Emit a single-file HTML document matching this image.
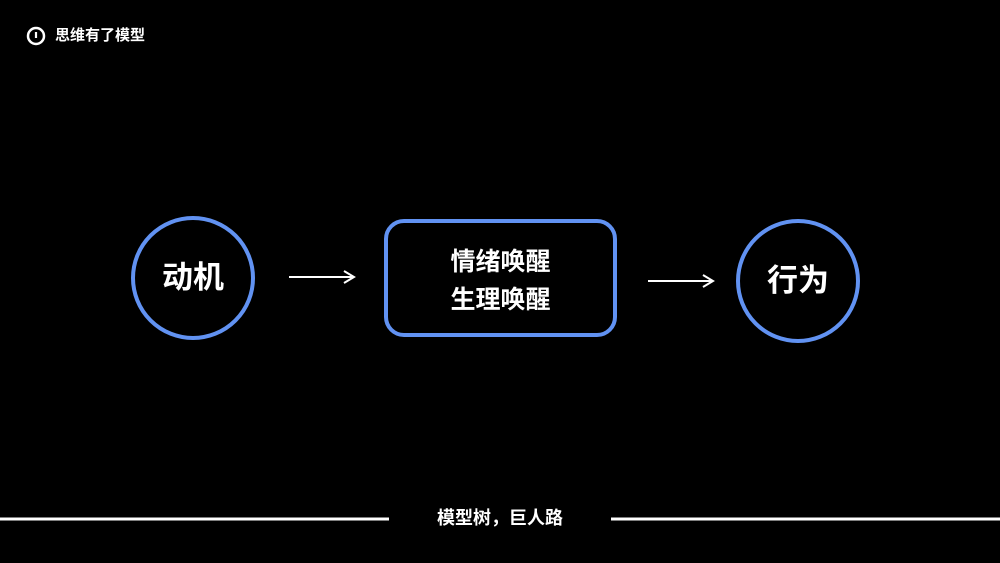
<!DOCTYPE html>
<html><head><meta charset="utf-8"><style>
body{margin:0;width:1000px;height:563px;background:#000;overflow:hidden;position:relative;font-family:"Liberation Sans","Noto Sans CJK SC",sans-serif;color:#fff;font-weight:bold}
.a{position:absolute}
</style></head><body>
<svg class="a" style="left:0;top:0" width="1000" height="563">
<circle cx="36" cy="36" r="8" fill="none" stroke="#fff" stroke-width="2.5"/>
<line x1="36" y1="32" x2="36" y2="38" stroke="#fff" stroke-width="2.2"/>
<circle cx="193" cy="278" r="60" fill="none" stroke="#6192f2" stroke-width="4"/>
<rect x="386" y="221" width="229" height="114" rx="18" fill="none" stroke="#6192f2" stroke-width="4"/>
<circle cx="798" cy="281" r="60" fill="none" stroke="#6192f2" stroke-width="4"/>
<line x1="289" y1="277" x2="353" y2="277" stroke="#fff" stroke-width="2"/>
<polyline points="344,271 354,277 344,283" fill="none" stroke="#fff" stroke-width="2"/>
<line x1="648" y1="281" x2="712" y2="281" stroke="#fff" stroke-width="2"/>
<polyline points="703,275 713,281 703,287" fill="none" stroke="#fff" stroke-width="2"/>
<line x1="0" y1="519" x2="389" y2="519" stroke="#fff" stroke-width="3"/>
<line x1="611" y1="519" x2="1000" y2="519" stroke="#fff" stroke-width="3"/>
</svg>
<div class="a" style="left:55px;top:27px;font-size:15px;line-height:18px">思维有了模型</div>
<div class="a" style="left:133px;top:260px;width:120px;text-align:center;font-size:31px;line-height:36px">动机</div>
<div class="a" style="left:386px;top:243px;width:229px;text-align:center;font-size:25px;line-height:38px">情绪唤醒<br>生理唤醒</div>
<div class="a" style="left:738px;top:263px;width:120px;text-align:center;font-size:31px;line-height:36px">行为</div>
<div class="a" style="left:400px;top:507px;width:200px;text-align:center;font-size:18px;line-height:22px">模型树，巨人路</div>
</body></html>
